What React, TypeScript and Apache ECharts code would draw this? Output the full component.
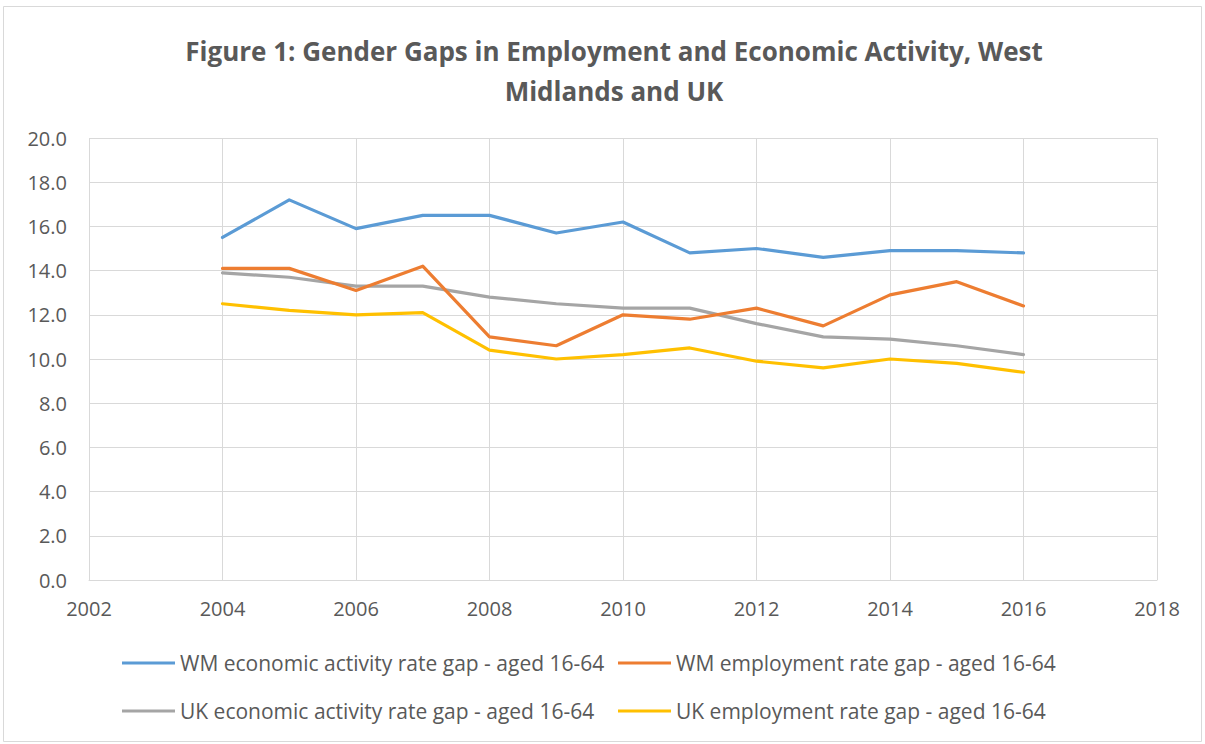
import React, { useEffect, useRef } from "react";
import * as echarts from "echarts";

const years = [2004, 2005, 2006, 2007, 2008, 2009, 2010, 2011, 2012, 2013, 2014, 2015, 2016];
const wmActivity = [15.5, 17.2, 15.9, 16.5, 16.5, 15.7, 16.2, 14.8, 15.0, 14.6, 14.9, 14.9, 14.8];
const wmEmployment = [14.1, 14.1, 13.1, 14.2, 11.0, 10.6, 12.0, 11.8, 12.3, 11.5, 12.9, 13.5, 12.4];
const ukActivity = [13.9, 13.7, 13.3, 13.3, 12.8, 12.5, 12.3, 12.3, 11.6, 11.0, 10.9, 10.6, 10.2];
const ukEmployment = [12.5, 12.2, 12.0, 12.1, 10.4, 10.0, 10.2, 10.5, 9.9, 9.6, 10.0, 9.8, 9.4];

const seriesNames = [
  "WM economic activity rate gap - aged 16-64",
  "WM employment rate gap - aged 16-64",
  "UK economic activity rate gap - aged 16-64",
  "UK employment rate gap - aged 16-64",
];
const seriesValues = [wmActivity, wmEmployment, ukActivity, ukEmployment];
const colors = ["#5B9BD5", "#ED7D31", "#A5A5A5", "#FFC000"];
const titleText = "Figure 1: Gender Gaps in Employment and Economic Activity, West\nMidlands and UK";

const FONT = "'Open Sans', sans-serif";
const TEXT = "#595959";

export default function App() {
  const ref = useRef<HTMLDivElement>(null);
  useEffect(() => {
    if (!ref.current) return;
    const chart = echarts.init(ref.current, null, { renderer: "svg" });
    const legendPos = [
      { left: 122, top: 652 },
      { left: 618, top: 652 },
      { left: 122, top: 700 },
      { left: 618, top: 700 },
    ];
    chart.setOption({
      animation: false,
      backgroundColor: "#ffffff",
      title: {
        text: titleText,
        left: 609,
        textAlign: "center",
        top: 26,
        textStyle: {
          fontFamily: FONT,
          fontSize: 26,
          fontWeight: "bold",
          color: TEXT,
          lineHeight: 40,
        },
      },
      legend: legendPos.map((p, i) => ({
        left: p.left,
        top: p.top,
        padding: 0,
        icon: "rect",
        itemWidth: 53,
        itemHeight: 3,
        data: [seriesNames[i]],
        textStyle: { fontFamily: FONT, fontSize: 21, color: TEXT, lineHeight: 22 },
      })),
      grid: { left: 89, right: 48, top: 138, bottom: 164, containLabel: false },
      xAxis: {
        type: "value",
        min: 2002,
        max: 2018,
        interval: 2,
        axisLine: { show: true, lineStyle: { color: "#D9D9D9", width: 1 } },
        axisTick: { show: false },
        splitLine: { show: true, lineStyle: { color: "#D9D9D9", width: 1 } },
        axisLabel: {
          margin: 18,
          fontFamily: FONT,
          fontSize: 20,
          color: TEXT,
          formatter: (v: number) => String(v),
        },
      },
      yAxis: {
        type: "value",
        min: 0,
        max: 20,
        interval: 2,
        axisLine: { show: false },
        axisTick: { show: false },
        splitLine: { show: true, lineStyle: { color: "#D9D9D9", width: 1 } },
        axisLabel: {
          margin: 22,
          fontFamily: FONT,
          fontSize: 20,
          color: TEXT,
          formatter: (v: number) => v.toFixed(1),
        },
      },
      graphic: [
        {
          type: "rect",
          shape: { x: 3.5, y: 6.5, width: 1198, height: 735 },
          style: { fill: "none", stroke: "#D9D9D9", lineWidth: 1 },
          silent: true,
        },
      ],
      series: seriesValues.map((vals, i) => ({
        name: seriesNames[i],
        type: "line",
        data: years.map((y, j) => [y, vals[j]]),
        showSymbol: false,
        symbol: "none",
        lineStyle: { color: colors[i], width: 3.2, join: "round", cap: "round" },
        itemStyle: { color: colors[i] },
        z: 10 - i,
      })),
    });
    return () => chart.dispose();
  }, []);
  return (
    <div
      ref={ref}
      style={{ position: "fixed", left: 0, top: 0, width: 1205, height: 744 }}
    />
  );
}
